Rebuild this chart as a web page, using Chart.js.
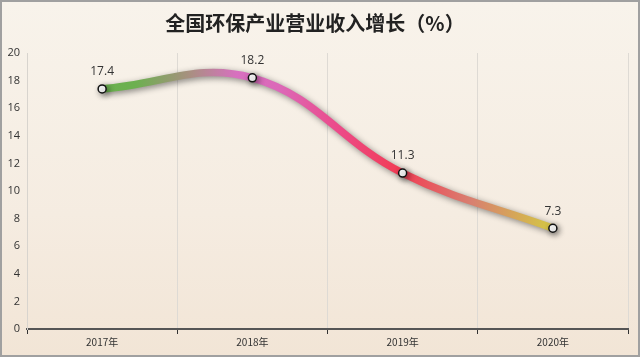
<!DOCTYPE html>
<html><head><meta charset="utf-8">
<script src="https://cdn.jsdelivr.net/npm/chart.js@4/dist/chart.umd.min.js"></script>
<style>
html,body{margin:0;padding:0;background:#fff;}
#wrap{position:relative;width:636px;height:353px;border:2px solid #a0a0a0;background:linear-gradient(to bottom,#f8f3eb 0%,#f5ece1 60%,#f2e5d6 100%);}
canvas{display:block;}
</style></head><body>
<div id="wrap"><canvas id="c" width="636" height="353"></canvas></div>
<script>
const categories = ['2017年','2018年','2019年','2020年'];
const growth = [17.4, 18.2, 11.3, 7.3];
const titleText = '全国环保产业营业收入增长（%）';

function lineGradient(ctx){
  const ca = ctx.chart.chartArea;
  if(!ca) return '#e05080';
  const g = ctx.chart.ctx.createLinearGradient(ca.left,0,ca.right,0);
  g.addColorStop(0.0,'#6ab24e');
  g.addColorStop(0.18,'#6cb050');
  g.addColorStop(0.27,'#a89080');
  g.addColorStop(0.35,'#d870c0');
  g.addColorStop(0.42,'#dc68b8');
  g.addColorStop(0.52,'#ec4a88');
  g.addColorStop(0.62,'#f23c54');
  g.addColorStop(0.74,'#d88070');
  g.addColorStop(0.86,'#d4c048');
  g.addColorStop(1.0,'#d4c444');
  return g;
}

const shadowPlugin = {
  id:'shadow',
  beforeDatasetDraw(chart){const c=chart.ctx;c.save();c.shadowColor='rgba(0,0,0,0.45)';c.shadowBlur=6;c.shadowOffsetX=2;c.shadowOffsetY=2;},
  afterDatasetDraw(chart){chart.ctx.restore();}
};
const labelPlugin = {
  id:'vlabels',
  afterDatasetsDraw(chart){
    const c=chart.ctx; const meta=chart.getDatasetMeta(0);
    c.save(); c.font='12px "Open Sans", sans-serif'; c.fillStyle='#333'; c.textAlign='center'; c.textBaseline='middle';
    meta.data.forEach((p,i)=>{ c.fillText(String(growth[i]), p.x, p.y-17); });
    c.restore();
  }
};

new Chart(document.getElementById('c'),{
  type:'line',
  data:{labels:categories,datasets:[{
    data:growth,
    borderColor:lineGradient,
    borderWidth:7.5,
    tension:0.4,
    pointRadius:4,
    pointBorderWidth:1.5,
    pointBackgroundColor:'#ffffff',
    pointBorderColor:'#111111',
    fill:false
  }]},
  options:{
    responsive:false,animation:false,
    layout:{padding:{left:0,right:10,top:0,bottom:5}},
    plugins:{
      legend:{display:false},tooltip:{enabled:false},
      title:{display:true,text:titleText,color:'#222',font:{family:'"Noto Sans CJK SC", sans-serif',size:20,weight:'bold'},padding:{top:9,bottom:18}}
    },
    scales:{
      x:{offset:true,
        grid:{offset:true,color:'#dedad4',lineWidth:1,tickColor:'#333',tickLength:5,drawTicks:true},
        border:{display:true,color:'#555',width:2},
        ticks:{color:'#333',font:{family:'"Noto Sans CJK SC", sans-serif',size:10},padding:2}
      },
      y:{min:0,max:20,
        afterFit(scale){scale.width=25;},
        ticks:{stepSize:2,color:'#333',font:{family:'"Open Sans", sans-serif',size:11},padding:7},
        grid:{display:false,drawTicks:false},
        border:{display:true,color:'#d8d4ce',width:1}
      }
    }
  },
  plugins:[shadowPlugin,labelPlugin]
});
</script>
</body></html>
